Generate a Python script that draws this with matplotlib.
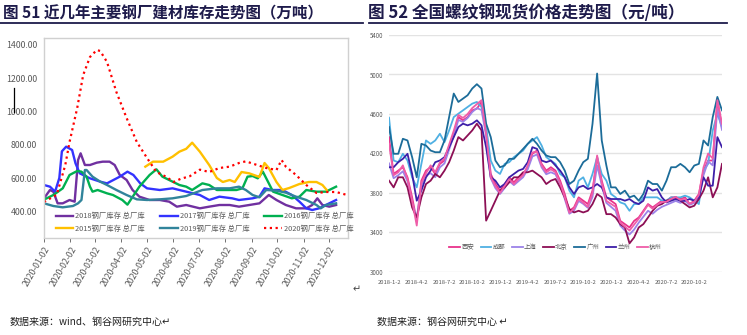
import matplotlib
matplotlib.use("Agg")
import matplotlib.pyplot as plt
import matplotlib.dates as mdates
from matplotlib.lines import Line2D
from matplotlib.ticker import FuncFormatter, MultipleLocator
import pandas as pd

plt.rcParams['font.family'] = ['Noto Sans CJK SC', 'DejaVu Sans']

# ---------------- 图51: steel mill inventory (万吨), days after 2020-01-02
d2018 = [0, 7, 11, 16, 22, 30, 36, 40, 43, 48, 54, 62, 69, 77, 83, 89, 97, 104, 112, 124, 136,
         147, 156, 167, 183, 194, 206, 218, 229, 241, 253, 264, 273, 284, 296, 308, 315, 321, 327, 335, 343]
v2018 = [478, 528, 518, 448, 448, 468, 458, 708, 748, 678, 678, 692, 698, 698, 678, 618, 588, 528, 488, 468, 468,
         458, 428, 438, 418, 428, 438, 438, 428, 438, 448, 498, 468, 438, 418, 418, 438, 478, 438, 428, 438]

d2017 = [0, 7, 13, 18, 21, 26, 33, 37, 42, 54, 66, 74, 89, 98, 105, 113, 121, 136, 151, 167, 183,
         194, 206, 221, 229, 245, 253, 259, 268, 280, 291, 300, 308, 315, 323, 331, 343]
v2017 = [558, 548, 518, 600, 760, 788, 768, 688, 628, 598, 578, 568, 608, 638, 618, 568, 538, 528, 538, 518, 498,
         468, 488, 478, 468, 478, 488, 538, 528, 528, 498, 458, 418, 408, 418, 438, 468]

d2016 = [0, 11, 22, 30, 39, 44, 50, 54, 57, 63, 74, 81, 92, 98, 112, 124, 132, 139, 151, 159, 167,
         174, 186, 194, 203, 214, 226, 233, 239, 245, 251, 257, 263, 269, 280, 291, 300, 308, 320, 331, 343]
v2016 = [470, 498, 538, 618, 642, 638, 608, 548, 518, 528, 508, 498, 468, 440, 548, 618, 652, 608, 578, 558, 548,
         528, 568, 558, 528, 528, 528, 538, 608, 612, 598, 638, 578, 518, 498, 478, 488, 528, 518, 518, 548]

d2015 = [119, 128, 140, 151, 159, 167, 174, 183, 194, 203, 210, 218, 224, 232, 241, 253, 259, 264, 273,
         280, 288, 300, 311, 320, 327, 332]
v2015 = [668, 698, 698, 728, 758, 775, 812, 758, 678, 600, 576, 588, 576, 636, 628, 606, 690, 660, 576,
         528, 540, 564, 576, 576, 558, 528]

d2019 = [0, 11, 22, 34, 40, 44, 48, 50, 57, 66, 74, 85, 97, 109, 121, 136, 151, 167, 186, 203, 218,
         229, 237, 245, 253, 261, 273, 284, 296, 308, 320, 325, 331, 343]
v2019 = [448, 432, 424, 432, 448, 468, 648, 648, 608, 578, 558, 528, 498, 472, 468, 472, 478, 492, 528, 538, 538,
         548, 528, 498, 484, 528, 524, 512, 488, 468, 438, 418, 438, 448]

d2020 = [0, 15, 25, 30, 39, 46, 54, 62, 66, 74, 85, 97, 109, 121, 132, 144, 152, 161, 171, 183, 194,
         206, 218, 229, 237, 249, 261, 273, 279, 284, 296, 308, 320, 331, 343, 356]
v2020 = [456, 500, 678, 816, 1020, 1218, 1326, 1368, 1362, 1296, 1116, 960, 816, 720, 636, 606, 576, 596, 610, 650, 636,
         660, 668, 690, 700, 680, 660, 648, 708, 668, 618, 558, 510, 516, 516, 498]

# ---------------- 图52: rebar spot prices (元/吨), half-monthly 2018-01-02 .. 2020-12-31
xian = [4366, 3993, 4027, 4061, 3959, 3756, 3518, 3925, 4027, 4061,
        3993, 4095, 4129, 4264, 4400, 4569, 4536, 4569, 4637, 4654,
        4722, 4434, 3993, 3891, 3824, 3891, 3959, 3908, 3959, 3993,
        4061, 4197, 4230, 4095, 4027, 4061, 4027, 3925, 3790, 3620,
        3654, 3756, 3722, 3688, 3824, 4163, 3925, 3756, 3722, 3688,
        3518, 3485, 3451, 3518, 3552, 3620, 3688, 3654, 3688, 3722,
        3722, 3756, 3756, 3739, 3756, 3688, 3722, 3790, 4027, 4129,
        4129, 4739, 4468]
chengdu = [4563, 4129, 4112, 4197, 4129, 3959, 3857, 4095, 4332, 4298,
           4332, 4400, 4315, 4434, 4569, 4603, 4637, 4671, 4705, 4722,
           4671, 4468, 4129, 4027, 3993, 4095, 4112, 4163, 4197, 4230,
           4298, 4332, 4366, 4281, 4163, 4129, 4095, 3993, 3959, 3824,
           3756, 3925, 3959, 3857, 3993, 4163, 3993, 3925, 3790, 3756,
           3705, 3688, 3620, 3688, 3688, 3756, 3756, 3756, 3756, 3722,
           3722, 3756, 3756, 3756, 3773, 3756, 3722, 3688, 4027, 4095,
           4434, 4603, 4468]
shanghai = [4100, 3950, 3980, 4020, 3920, 3700, 3540, 3880, 3980, 4000,
            3960, 4060, 4100, 4240, 4380, 4540, 4520, 4560, 4620, 4660,
            4640, 4380, 3950, 3850, 3790, 3850, 3920, 3880, 3920, 3960,
            4040, 4170, 4190, 4060, 3990, 4010, 3990, 3890, 3740, 3590,
            3620, 3720, 3690, 3650, 3760, 4080, 3880, 3700, 3660, 3620,
            3470, 3420, 3380, 3430, 3500, 3560, 3620, 3590, 3630, 3660,
            3680, 3700, 3720, 3700, 3720, 3680, 3700, 3760, 3980, 4120,
            4080, 4650, 4440]
beijing = [3925, 3857, 3959, 3959, 3857, 3654, 3552, 3756, 3891, 3925,
           3993, 3959, 4027, 4112, 4230, 4366, 4332, 4383, 4434, 4502,
           4434, 3520, 3620, 3722, 3824, 3857, 3908, 3959, 3959, 4010,
           4010, 4027, 3993, 3959, 3891, 3925, 3942, 3857, 3756, 3637,
           3603, 3620, 3603, 3620, 3688, 3790, 3756, 3586, 3586, 3552,
           3485, 3451, 3290, 3350, 3451, 3485, 3552, 3620, 3671, 3688,
           3722, 3739, 3756, 3722, 3688, 3654, 3671, 3739, 3824, 3959,
           3756, 3857, 4095]
guangzhou = [4468, 4197, 4197, 4349, 4332, 4163, 3959, 4298, 4281, 4230,
             4213, 4213, 4332, 4569, 4807, 4722, 4756, 4790, 4858, 4902,
             4858, 4502, 4366, 4129, 4061, 4078, 4146, 4146, 4197, 4247,
             4298, 4349, 4298, 4230, 4180, 4163, 4163, 4112, 4027, 3891,
             3925, 4027, 4112, 4146, 4500, 5010, 4332, 4078, 3857, 3857,
             3790, 3824, 3756, 3773, 3722, 3790, 3925, 3891, 3891, 3824,
             3925, 4061, 4061, 4095, 4061, 4010, 4078, 4095, 4332, 4281,
             4569, 4773, 4637]
lanzhou = [4061, 4061, 4112, 4146, 4197, 3993, 3722, 3824, 3959, 4027,
           4112, 4129, 4163, 4264, 4366, 4468, 4502, 4485, 4502, 4536,
           4485, 4264, 3959, 3925, 3857, 3891, 3959, 3993, 4027, 4044,
           4112, 4264, 4247, 4129, 4112, 4129, 4078, 4027, 3959, 3857,
           3790, 3857, 3874, 3840, 3857, 3891, 3857, 3756, 3739, 3739,
           3739, 3722, 3739, 3705, 3688, 3722, 3857, 3824, 3840, 3756,
           3705, 3722, 3739, 3722, 3722, 3739, 3722, 3756, 3959, 3874,
           3874, 4366, 4264]
hangzhou = [4300, 3980, 4010, 4080, 3940, 3720, 3470, 3900, 4000, 4080,
            4010, 4110, 4150, 4290, 4430, 4590, 4560, 4600, 4660, 4700,
            4740, 4400, 3960, 3870, 3800, 3870, 3940, 3890, 3940, 3980,
            4080, 4210, 4220, 4080, 4010, 4040, 4010, 3900, 3760, 3600,
            3640, 3740, 3700, 3660, 3800, 4180, 3900, 3720, 3690, 3660,
            3500, 3460, 3420, 3480, 3540, 3610, 3680, 3640, 3680, 3710,
            3710, 3740, 3760, 3730, 3740, 3690, 3710, 3780, 4060, 4200,
            4150, 4740, 4500]

fig = plt.figure(figsize=(7.47, 3.35), dpi=100)
W, H = 747, 335


def box(x0, y0, x1, y1):
    return [x0 / W, 1 - y1 / H, (x1 - x0) / W, (y1 - y0) / H]


title_col = '#1E1B4B'
fig.text(3 / W, 1 - 13 / H, '图 51 近几年主要钢厂建材库存走势图（万吨）', fontsize=11.2,
         fontweight='bold', color=title_col, va='center', ha='left')
fig.text(368 / W, 1 - 13 / H, '图 52 全国螺纹钢现货价格走势图（元/吨）', fontsize=12,
         fontweight='bold', color=title_col, va='center', ha='left')
fig.add_artist(Line2D([0, 363 / W], [1 - 23 / H] * 2, color=title_col, lw=1.3))
fig.add_artist(Line2D([369 / W, 727 / W], [1 - 23 / H] * 2, color=title_col, lw=1.3))

# ---- left chart
ax = fig.add_axes(box(44, 38, 348, 238))
base = pd.Timestamp('2020-01-02')
left_series = [
    ('2018钢厂库存 总厂库', d2018, v2018, '#7030A0'),
    ('2017钢厂库存 总厂库', d2017, v2017, '#3333FF'),
    ('2016钢厂库存 总厂库', d2016, v2016, '#00B050'),
    ('2015钢厂库存 总厂库', d2015, v2015, '#FFC000'),
    ('2019钢厂库存 总厂库', d2019, v2019, '#31849B'),
]
handles = {}
for name, dd, vv, col in left_series:
    x = base + pd.to_timedelta(dd, unit='D')
    handles[name], = ax.plot(x, vv, color=col, lw=1.7, label=name)
x = base + pd.to_timedelta(d2020, unit='D')
handles['2020钢厂库存 总厂库'], = ax.plot(x, v2020, color='#FF0000', lw=1.6,
                                       ls=(0, (1, 1.6)), label='2020钢厂库存 总厂库')

ax.set_ylim(240, 1440)
ax.set_xlim(base, pd.Timestamp('2020-12-24'))
ax.yaxis.set_major_locator(MultipleLocator(200))
ax.yaxis.set_major_formatter(FuncFormatter(lambda v, p: f'{v:.2f}'))
ax.xaxis.set_major_locator(mdates.MonthLocator(bymonthday=2))
ax.xaxis.set_major_formatter(mdates.DateFormatter('%Y-%m-%d'))
for lab in ax.get_xticklabels():
    lab.set_rotation(60)
    lab.set_ha('right')
    lab.set_rotation_mode('anchor')
ax.tick_params(axis='x', labelsize=6.3, colors='#595959', length=3, width=0.6, pad=2)
ax.tick_params(axis='y', labelsize=6.3, colors='#595959', length=0, pad=5)
for s in ax.spines.values():
    s.set_color('#D0D0D0')
    s.set_linewidth(1)

order = ['2018钢厂库存 总厂库', '2015钢厂库存 总厂库', '2017钢厂库存 总厂库',
         '2019钢厂库存 总厂库', '2016钢厂库存 总厂库', '2020钢厂库存 总厂库']
leg = ax.legend([handles[k] for k in order], order, ncol=3, loc='lower left',
                bbox_to_anchor=(0.02, 0.0), frameon=False, fontsize=5.3,
                handlelength=2.4, handletextpad=0.3, columnspacing=2.0,
                labelspacing=0.55, borderaxespad=0.35)
for t in leg.get_texts():
    t.set_color('#595959')

# ---- right chart
ax2 = fig.add_axes(box(389, 35, 722, 272))
dates = pd.date_range('2018-01-02', '2020-12-31', periods=len(xian))
right_series = [
    ('西安', xian, '#E8338B'),
    ('成都', chengdu, '#4FB0E3'),
    ('上海', shanghai, '#9C82E8'),
    ('北京', beijing, '#8C0F55'),
    ('广州', guangzhou, '#1C6C99'),
    ('兰州', lanzhou, '#3D1FA8'),
    ('杭州', hangzhou, '#EF5DA8'),
]
for name, vals, col in right_series:
    ax2.plot(dates, vals, color=col, lw=1.3, label=name)

ax2.set_ylim(3000, 5400)
ax2.set_yticks(range(3000, 5401, 400))
ax2.set_xlim(pd.Timestamp('2018-01-02'), pd.Timestamp('2020-12-31'))
ax2.grid(axis='y', color='#E3E3E3', lw=1)
ax2.set_axisbelow(True)
for s in ax2.spines.values():
    s.set_visible(False)
ax2.xaxis.set_major_locator(mdates.MonthLocator(bymonth=[1, 4, 7, 10], bymonthday=2))
ax2.xaxis.set_major_formatter(FuncFormatter(
    lambda v, p: (lambda d: f'{d.year}-{d.month}-{d.day}')(mdates.num2date(v))))
ax2.tick_params(axis='x', labelsize=4.2, colors='#595959', length=0, pad=6)
ax2.tick_params(axis='y', labelsize=4.4, colors='#595959', length=0, pad=4)
leg2 = ax2.legend(ncol=7, loc='center', bbox_to_anchor=(0.5, 0.105), frameon=False,
                  fontsize=4.6, handlelength=1.7, handletextpad=0.2, columnspacing=1.0)
for t in leg2.get_texts():
    t.set_color('#595959')

# ---- sources and marks
fig.text(10 / W, 1 - 322 / H, '数据来源：wind、钢谷网研究中心↵', fontsize=7.2, color='#222222',
         va='center', ha='left')
fig.text(377 / W, 1 - 322 / H, '数据来源：钢谷网研究中心 ↵', fontsize=7.2, color='#222222',
         va='center', ha='left')
fig.text(357 / W, 1 - 289 / H, '↵', fontsize=7, color='#444444', va='center', ha='center')
fig.add_artist(Line2D([14 / W, 14 / W], [1 - 88 / H, 1 - 112 / H], color='black', lw=0.9))

fig.savefig('out.png', dpi=100)
